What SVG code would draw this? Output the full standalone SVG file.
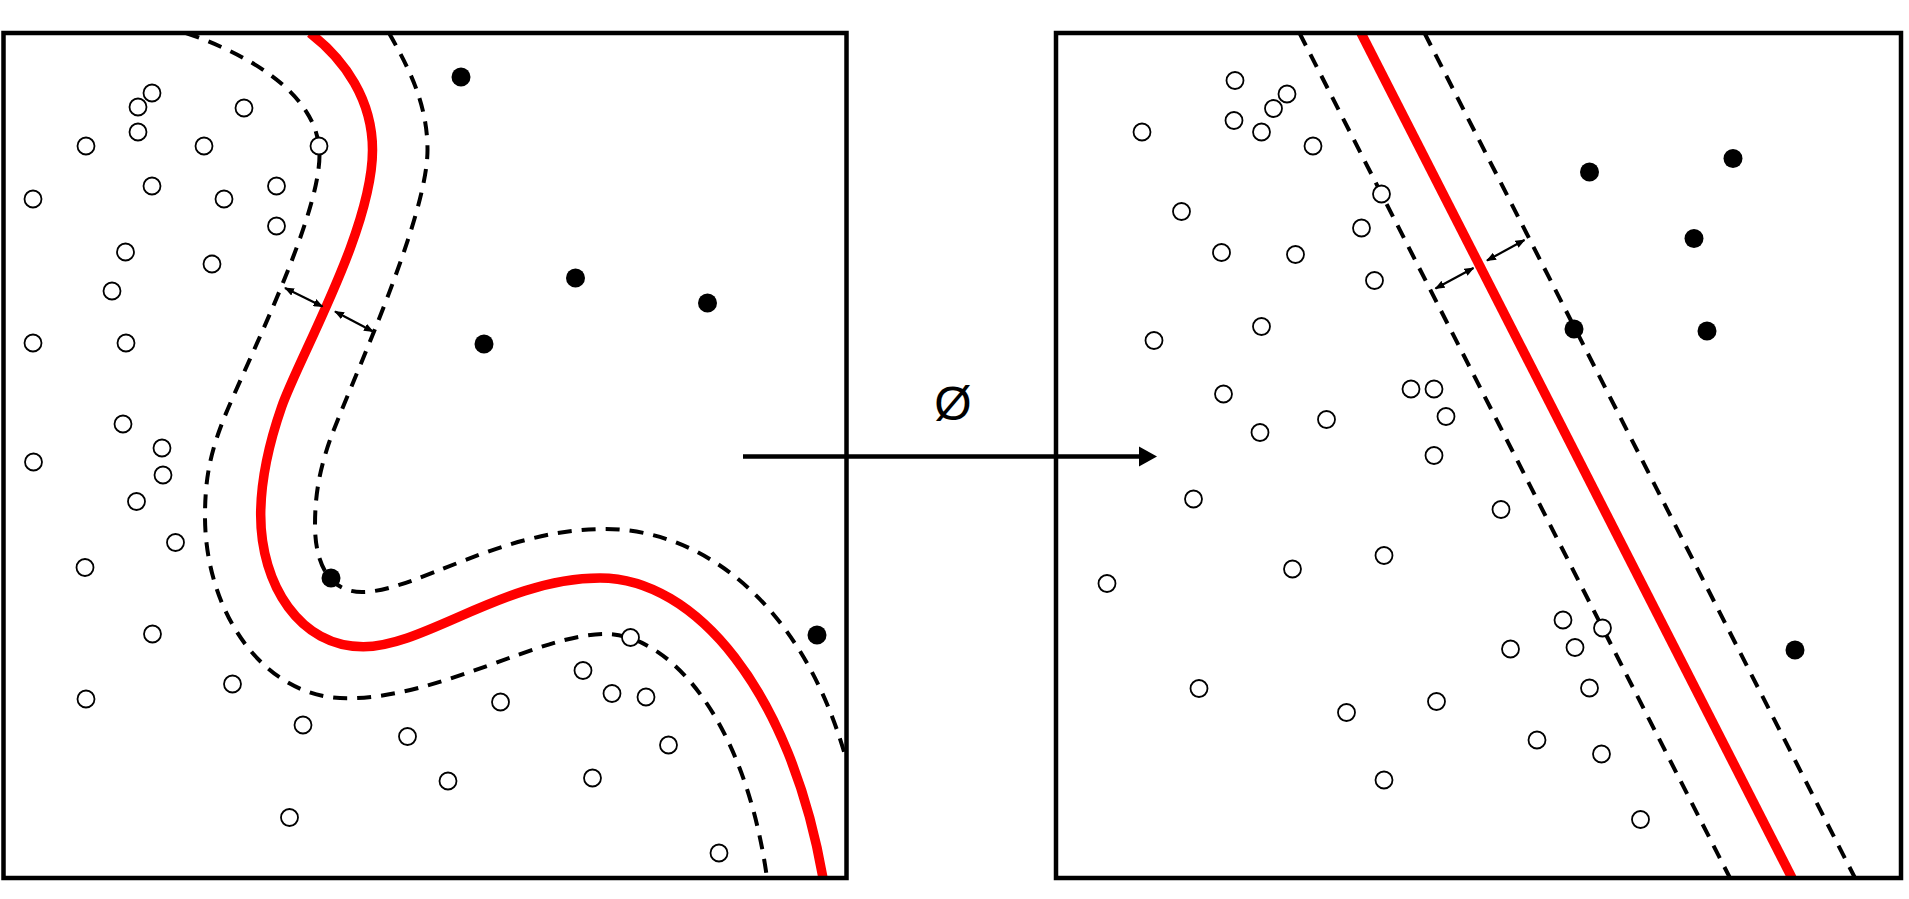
<svg xmlns="http://www.w3.org/2000/svg" width="1909" height="899" viewBox="0 0 1909 899">
<style>
.box{fill:none;stroke:#000;stroke-width:4.5}
.o{fill:#fff;stroke:#000;stroke-width:1.8}
.f{fill:#000}
.red{fill:none;stroke:#f00;stroke-width:9.5}
.dash{fill:none;stroke:#000;stroke-width:4;stroke-dasharray:14 10}
.dbl{fill:none;stroke:#000;stroke-width:2.2;marker-start:url(#ah);marker-end:url(#ah)}
</style>
<defs>
<marker id="ah" viewBox="0 0 10 8" refX="9" refY="4" markerWidth="4.5" markerHeight="3.6" orient="auto-start-reverse"><path d="M0,0 L10,4 L0,8 z" fill="#000"/></marker>
<clipPath id="cl"><rect x="3.5" y="33" width="843" height="845"/></clipPath>
<clipPath id="cr"><rect x="1056" y="33" width="845" height="845"/></clipPath>
</defs>
<rect width="1909" height="899" fill="#fff"/>
<g id="left-panel">
<g clip-path="url(#cl)">
<path class="red" d="M310,33 C345,60 372.5,100 372.5,150 C372.5,230 299.2,356.7 281.7,406.7 C269.5,441.7 260.7,480 260.7,515 C260.7,585 300,646.7 363.3,646.7 C425,646.7 505,578 600,578 C695,578 790,690 823,878"/>
<path class="dash" d="M186,33 C250,55 319.5,95 319.5,155 C319.5,220 242.8,370 223.3,420 C209.6,455 205,480 205,516.7 C205,610 262,698.3 346.7,698.3 C440,698.3 540,634 605,634 C670,634 745,720 767,878"/>
<path class="dash" d="M389,33 C410,70 427.5,105 427.5,150 C427.5,220 347.8,390 330,440 C319.4,470 315,495 315,525 C315,565 330,592 362,592 C415,592 500,529 605,529 C700,529 800,600 845,755"/>
</g>
<line class="dbl" x1="285" y1="288" x2="322.5" y2="306.5"/>
<line class="dbl" x1="335" y1="311.5" x2="373" y2="331.5"/>
<g id="left-open">
<circle class="o" cx="152" cy="93" r="8.5"/><circle class="o" cx="138" cy="107" r="8.5"/><circle class="o" cx="244" cy="108" r="8.5"/>
<circle class="o" cx="138" cy="132" r="8.5"/><circle class="o" cx="86" cy="146" r="8.5"/><circle class="o" cx="204" cy="146" r="8.5"/>
<circle class="o" cx="319" cy="146" r="8.5"/><circle class="o" cx="152" cy="186" r="8.5"/><circle class="o" cx="33" cy="199" r="8.5"/>
<circle class="o" cx="224" cy="199" r="8.5"/><circle class="o" cx="276.5" cy="186" r="8.5"/><circle class="o" cx="276.5" cy="226" r="8.5"/>
<circle class="o" cx="125.5" cy="252" r="8.5"/><circle class="o" cx="212" cy="264" r="8.5"/><circle class="o" cx="112" cy="291" r="8.5"/>
<circle class="o" cx="33" cy="343" r="8.5"/><circle class="o" cx="126" cy="343" r="8.5"/><circle class="o" cx="123" cy="424" r="8.5"/>
<circle class="o" cx="162" cy="448" r="8.5"/><circle class="o" cx="33.5" cy="462" r="8.5"/><circle class="o" cx="163" cy="475" r="8.5"/>
<circle class="o" cx="136.5" cy="501.5" r="8.5"/><circle class="o" cx="175.5" cy="542.5" r="8.5"/><circle class="o" cx="85" cy="567.5" r="8.5"/>
<circle class="o" cx="152.5" cy="634" r="8.5"/><circle class="o" cx="232.5" cy="684" r="8.5"/><circle class="o" cx="86" cy="699" r="8.5"/>
<circle class="o" cx="303" cy="725" r="8.5"/><circle class="o" cx="407.5" cy="736.5" r="8.5"/><circle class="o" cx="500.5" cy="702" r="8.5"/>
<circle class="o" cx="630.5" cy="637.5" r="8.5"/><circle class="o" cx="583" cy="670.5" r="8.5"/><circle class="o" cx="612" cy="693.5" r="8.5"/>
<circle class="o" cx="646" cy="697" r="8.5"/><circle class="o" cx="668.5" cy="745" r="8.5"/><circle class="o" cx="448" cy="781" r="8.5"/>
<circle class="o" cx="592.5" cy="778" r="8.5"/><circle class="o" cx="289.5" cy="817.5" r="8.5"/><circle class="o" cx="719" cy="853" r="8.5"/>
</g>
<g id="left-filled">
<circle class="f" cx="461" cy="77" r="9.5"/><circle class="f" cx="575.5" cy="278" r="9.5"/><circle class="f" cx="707.5" cy="303" r="9.5"/>
<circle class="f" cx="484" cy="344" r="9.5"/><circle class="f" cx="331" cy="578" r="9.5"/><circle class="f" cx="817" cy="635" r="9.5"/>
</g>
<rect class="box" x="3.5" y="33" width="843" height="845"/>
</g>
<g id="right-panel">
<g clip-path="url(#cr)">
<line class="red" x1="1361" y1="33" x2="1792" y2="878"/>
<line class="dash" x1="1299.5" y1="33" x2="1730" y2="878"/>
<line class="dash" x1="1424.5" y1="33" x2="1855" y2="878"/>
</g>
<line class="dbl" x1="1435.5" y1="288.5" x2="1473.5" y2="268"/>
<line class="dbl" x1="1487" y1="260.5" x2="1524.5" y2="240"/>
<g id="right-open">
<circle class="o" cx="1235" cy="80.5" r="8.5"/><circle class="o" cx="1287" cy="94" r="8.5"/><circle class="o" cx="1273.5" cy="108.5" r="8.5"/>
<circle class="o" cx="1234" cy="120.5" r="8.5"/><circle class="o" cx="1142" cy="132" r="8.5"/><circle class="o" cx="1261.5" cy="132" r="8.5"/>
<circle class="o" cx="1313" cy="146" r="8.5"/><circle class="o" cx="1381.5" cy="194" r="8.5"/><circle class="o" cx="1181.5" cy="211.5" r="8.5"/>
<circle class="o" cx="1361.5" cy="228" r="8.5"/><circle class="o" cx="1221.5" cy="252.5" r="8.5"/><circle class="o" cx="1295.5" cy="254.5" r="8.5"/>
<circle class="o" cx="1374.5" cy="280.5" r="8.5"/><circle class="o" cx="1261.5" cy="326.5" r="8.5"/><circle class="o" cx="1154" cy="340.5" r="8.5"/>
<circle class="o" cx="1223.5" cy="394" r="8.5"/><circle class="o" cx="1411" cy="389" r="8.5"/><circle class="o" cx="1434" cy="389" r="8.5"/>
<circle class="o" cx="1326.5" cy="419.5" r="8.5"/><circle class="o" cx="1446" cy="416.5" r="8.5"/><circle class="o" cx="1260" cy="432.5" r="8.5"/>
<circle class="o" cx="1434" cy="455.5" r="8.5"/><circle class="o" cx="1193.5" cy="499" r="8.5"/><circle class="o" cx="1501" cy="509.5" r="8.5"/>
<circle class="o" cx="1384" cy="555.5" r="8.5"/><circle class="o" cx="1292.5" cy="569" r="8.5"/><circle class="o" cx="1107" cy="583.5" r="8.5"/>
<circle class="o" cx="1563" cy="620" r="8.5"/><circle class="o" cx="1602.5" cy="628" r="8.5"/><circle class="o" cx="1510.5" cy="649" r="8.5"/>
<circle class="o" cx="1575" cy="647.5" r="8.5"/><circle class="o" cx="1199" cy="688.5" r="8.5"/><circle class="o" cx="1589.5" cy="688" r="8.5"/>
<circle class="o" cx="1346.5" cy="712.5" r="8.5"/><circle class="o" cx="1436.5" cy="701.5" r="8.5"/><circle class="o" cx="1537" cy="740" r="8.5"/>
<circle class="o" cx="1601.5" cy="754" r="8.5"/><circle class="o" cx="1384" cy="780" r="8.5"/><circle class="o" cx="1640.5" cy="819.5" r="8.5"/>
</g>
<g id="right-filled">
<circle class="f" cx="1589.5" cy="172" r="9.5"/><circle class="f" cx="1733" cy="158.5" r="9.5"/><circle class="f" cx="1694" cy="238.5" r="9.5"/>
<circle class="f" cx="1574" cy="329" r="9.5"/><circle class="f" cx="1707" cy="331" r="9.5"/><circle class="f" cx="1795" cy="650" r="9.5"/>
</g>
<rect class="box" x="1056" y="33" width="845" height="845"/>
</g>
<g id="connectors">
<line x1="743" y1="456.5" x2="1141" y2="456.5" stroke="#000" stroke-width="4.5"/>
<polygon points="1139,446.5 1157,456.5 1139,466.5" fill="#000"/>
</g>
<g id="label">
<text x="953" y="420" font-family="Liberation Sans, Arial, sans-serif" font-size="48" text-anchor="middle">Ø</text>
</g>
</svg>
